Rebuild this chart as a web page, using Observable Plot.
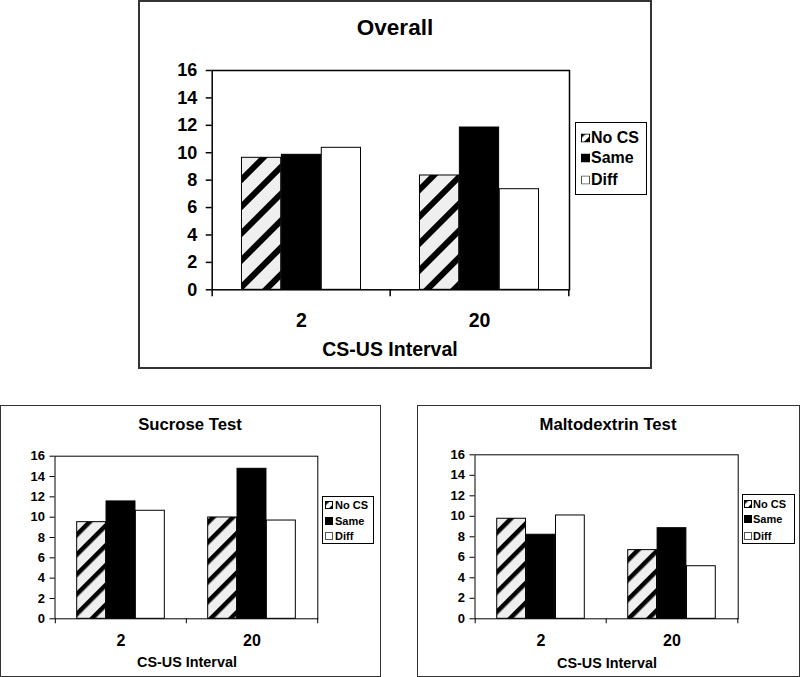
<!DOCTYPE html>
<html><head><meta charset="utf-8">
<script src="https://cdn.jsdelivr.net/npm/d3@7"></script>
<script src="https://cdn.jsdelivr.net/npm/@observablehq/plot@0.6"></script>
<style>
body{margin:0;background:#fff;font-family:"Liberation Sans",Arial,sans-serif;color:#000}
#root{position:relative;width:800px;height:677px;overflow:hidden}
.panel{position:absolute;box-sizing:border-box;border:1.5px solid #333}
.t{position:absolute;transform:translate(-50%,-50%);white-space:nowrap;font-weight:bold;line-height:1}
.legend{position:absolute;box-sizing:border-box;border:1.5px solid #000;background:#fff}
.lt{position:absolute;transform:translateY(-50%);white-space:nowrap;font-weight:bold;line-height:1}
.sw{position:absolute;transform:translateY(-50%)}
.plotwrap{position:absolute}
</style></head><body>
<svg width="0" height="0" style="position:absolute">
<defs>
<pattern id="hatchL" patternUnits="userSpaceOnUse" width="19" height="19" patternTransform="rotate(45)">
<rect width="19" height="19" fill="#efefef"/><rect width="6" height="19" fill="#000"/>
</pattern>
<pattern id="hatchS" patternUnits="userSpaceOnUse" width="14" height="14" patternTransform="rotate(45)">
<rect width="14" height="14" fill="#efefef"/><rect width="4.5" height="14" fill="#000"/>
</pattern>
<pattern id="hatchT" patternUnits="userSpaceOnUse" width="8" height="8" patternTransform="rotate(45)">
<rect width="8" height="8" fill="#ffffff"/><rect width="3.5" height="8" fill="#000"/>
</pattern>
</defs>
</svg>
<div id="root"></div>
<script>
// ---- data ----
const intervals = ["2", "20"];
const conditions = ["No CS", "Same", "Diff"];
const yTicks = [0, 2, 4, 6, 8, 10, 12, 14, 16];
const axisTitle = "CS-US Interval";

const overallNoCS = [9.63, 8.34];
const overallSame = [9.85, 11.84];
const overallDiff = [10.36, 7.34];

const sucroseNoCS = [9.51, 9.97];
const sucroseSame = [11.55, 14.76];
const sucroseDiff = [10.63, 9.67];

const maltoNoCS = [9.76, 6.70];
const maltoSame = [8.20, 8.84];
const maltoDiff = [10.08, 5.13];

// ---- layout ----
const root = document.getElementById("root");
function el(cls, css, text) {
  const d = document.createElement("div");
  d.className = cls;
  Object.assign(d.style, css);
  if (text != null) d.textContent = text;
  root.appendChild(d);
  return d;
}

function panel(o) {
  const [bx0, by0, bx1, by1] = o.box;
  el("panel", {left: bx0 + "px", top: by0 + "px", width: (bx1 - bx0) + "px", height: (by1 - by0) + "px", borderWidth: o.boxStroke + "px"});
  el("t", {left: o.titlePos[0] + "px", top: o.titlePos[1] + "px", fontSize: o.titleSize + "px"}, o.title);
  el("t", {left: o.xTitlePos[0] + "px", top: o.xTitlePos[1] + "px", fontSize: o.xTitleSize + "px"}, axisTitle);

  const [fx0, fy0, fx1, fy1] = o.frame;
  const [sx, sy, sw, sh] = o.svg;
  const fw = fx1 - fx0;
  const bw = fw / intervals.length;
  const barW = bw * 0.67 / conditions.length;
  const start = (bw - conditions.length * barW) / 2;
  const rows = intervals.map((iv, k) => ({interval: iv, v0: o.values[0][k], v1: o.values[1][k], v2: o.values[2][k]}));
  const fills = [o.hatch, "#000000", "#ffffff"];
  const bars = conditions.map((c, i) => Plot.barY(rows, {
    x: "interval", y: "v" + i, fill: fills[i], stroke: "#000", strokeWidth: o.barStroke,
    insetLeft: start + i * barW, insetRight: bw - start - (i + 1) * barW
  }));
  const chart = Plot.plot({
    width: sw, height: sh,
    marginLeft: fx0 - sx, marginRight: sx + sw - fx1,
    marginTop: fy0 - sy, marginBottom: sy + sh - fy1,
    style: {fontFamily: '"Liberation Sans", Arial, sans-serif', fontWeight: "bold", color: "#000", background: "transparent", overflow: "visible"},
    x: {type: "band", domain: intervals, padding: 0},
    y: {domain: [0, 16]},
    marks: [
      ...bars,
      Plot.frame({stroke: "#000", strokeWidth: o.frameStroke}),
      Plot.axisY({ticks: yTicks, tickSize: o.yTickSize, tickPadding: o.yTickPad, fontSize: o.yFont, label: null, stroke: "#000", strokeWidth: o.frameStroke, tickFormat: d => String(d)}),
      Plot.axisX({tickSize: 0, tickPadding: o.xTickPad, fontSize: o.xFont, label: null}),
      Plot.ruleX(intervals, {x: d => d, dx: -bw / 2, y1: 0, y2: 0, insetBottom: -o.xTickLen, stroke: "#000", strokeWidth: o.frameStroke}),
      Plot.ruleX(intervals.slice(-1), {x: d => d, dx: bw / 2, y1: 0, y2: 0, insetBottom: -o.xTickLen, stroke: "#000", strokeWidth: o.frameStroke})
    ]
  });
  const wrap = el("plotwrap", {left: sx + "px", top: sy + "px"});
  wrap.appendChild(chart);

  // legend
  const [lx0, ly0, lx1, ly1] = o.legendBox;
  el("legend", {left: lx0 + "px", top: ly0 + "px", width: (lx1 - lx0) + "px", height: (ly1 - ly0) + "px", borderWidth: o.legendStroke + "px"});
  const swFill = [o.legendHatch, "#000", "#fff"];
  conditions.forEach((c, i) => {
    const yc = o.legendRows[i];
    const s = o.swatch;
    const sv = el("sw", {left: o.swatchX + "px", top: yc + "px", width: s + "px", height: s + "px"});
    sv.innerHTML = `<svg width="${s}" height="${s}" style="display:block"><rect x="0.5" y="0.5" width="${s - 1}" height="${s - 1}" fill="${swFill[i]}" stroke="${i === 2 ? '#555' : '#000'}" stroke-width="1"/></svg>`;
    el("lt", {left: o.legendTextX + "px", top: yc + "px", fontSize: o.legendFont + "px"}, c);
  });
}

panel({
  title: "Overall", values: [overallNoCS, overallSame, overallDiff],
  box: [138, 0, 652, 369], boxStroke: 2,
  titlePos: [395, 28], titleSize: 22.5,
  xTitlePos: [390, 350], xTitleSize: 19.5,
  frame: [211.7, 70, 569, 289.3], svg: [130, 45, 445, 295],
  hatch: "url(#hatchL)", barStroke: 1, frameStroke: 1.5,
  yTickSize: 6, yTickPad: 9, yFont: 18, xTickPad: 23, xFont: 19.5, xTickLen: 7,
  legendBox: [575, 122, 647, 195], legendStroke: 1.5, legendRows: [137.7, 158.3, 180],
  swatchX: 581, swatch: 9, legendTextX: 591, legendFont: 16, legendHatch: "url(#hatchT)"
});

panel({
  title: "Sucrose Test", values: [sucroseNoCS, sucroseSame, sucroseDiff],
  box: [0, 405, 381, 677], boxStroke: 1.5,
  titlePos: [190, 425], titleSize: 16.7,
  xTitlePos: [187, 662], xTitleSize: 14.4,
  frame: [54.5, 455.7, 317.3, 618.3], svg: [10, 440, 320, 220],
  hatch: "url(#hatchS)", barStroke: 1, frameStroke: 1,
  yTickSize: 5, yTickPad: 5, yFont: 13, xTickPad: 16, xFont: 16, xTickLen: 5,
  legendBox: [322, 496, 374.3, 544.3], legendStroke: 1.2, legendRows: [505, 520.7, 536],
  swatchX: 325, swatch: 8, legendTextX: 335, legendFont: 11, legendHatch: "url(#hatchT)"
});

panel({
  title: "Maltodextrin Test", values: [maltoNoCS, maltoSame, maltoDiff],
  box: [416.5, 405, 800, 677], boxStroke: 1.5,
  titlePos: [608, 425], titleSize: 16.7,
  xTitlePos: [607, 663], xTitleSize: 14.4,
  frame: [474.5, 454.3, 737.7, 618.3], svg: [428, 440, 320, 220],
  hatch: "url(#hatchS)", barStroke: 1, frameStroke: 1,
  yTickSize: 5, yTickPad: 5, yFont: 13, xTickPad: 16, xFont: 16, xTickLen: 5,
  legendBox: [741.7, 494, 795, 544], legendStroke: 1.2, legendRows: [504.3, 519.3, 535.7],
  swatchX: 744, swatch: 8, legendTextX: 753, legendFont: 11, legendHatch: "url(#hatchT)"
});
</script>
</body></html>
